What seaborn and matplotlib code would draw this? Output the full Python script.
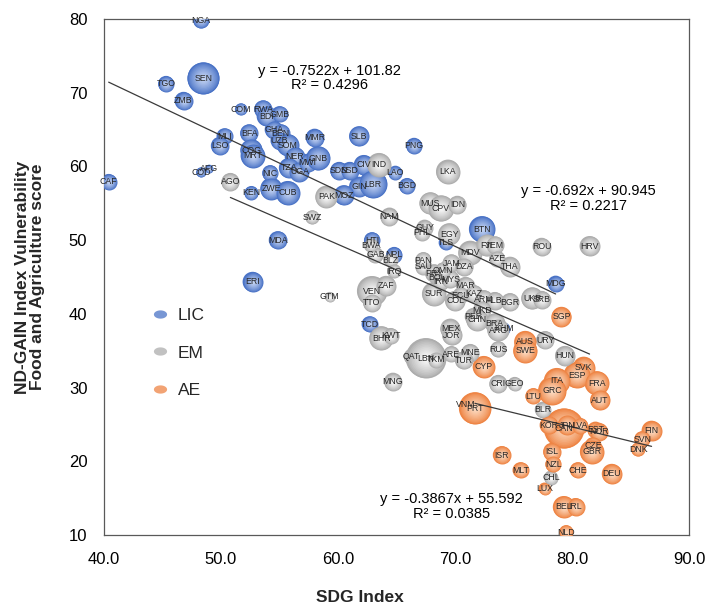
import numpy as np
import pandas as pd
import matplotlib
matplotlib.use("Agg")
import matplotlib.pyplot as plt
from matplotlib.lines import Line2D
from matplotlib.colors import to_rgb
import seaborn as sns

# --- values ---
# LIC (low income countries)
lic_codes = ["NGA", "SEN", "TGO", "ZMB", "COM", "RWA", "BDI", "GMB", "MLI", "LSO",
             "BFA", "GHA", "BEN", "UZB", "SOM", "COG", "MRT", "MMR", "NER", "TZA",
             "UGA", "MWI", "GNB", "CAF", "AFG", "COD", "NIC", "KEN", "ZWE", "CUB",
             "SLB", "PNG", "SDN", "SSD", "CIV", "LAO", "GIN", "LBR", "BGD", "MOZ",
             "TLS", "BTN", "HTI", "NPL", "MDA", "ERI", "TCD", "KHM", "MDG"]
lic_sdg = [48.3, 48.5, 45.3, 46.8, 51.7, 53.6, 53.9, 55.0, 50.3, 49.9,
           52.4, 54.5, 55.1, 55.0, 55.7, 52.6, 52.7, 58.0, 56.3, 55.8,
           56.7, 57.4, 58.3, 40.4, 49.0, 48.3, 54.2, 52.6, 54.3, 55.7,
           61.8, 66.5, 60.1, 61.0, 62.2, 64.9, 61.8, 63.0, 65.9, 60.5,
           69.2, 72.3, 62.9, 64.8, 54.85, 52.7, 62.7, 74.2, 78.6]
lic_vuln = [79.8, 71.95, 71.2, 68.9, 67.75, 67.75, 66.8, 67.1, 64.1, 62.8,
            64.5, 65.0, 64.5, 63.5, 62.9, 62.2, 61.45, 63.9, 61.3, 59.8,
            59.3, 60.5, 61.1, 57.9, 59.7, 59.2, 59.1, 56.4, 57.0, 56.4,
            64.1, 62.8, 59.4, 59.4, 60.2, 59.15, 57.25, 57.6, 57.35, 56.1,
            49.65, 51.5, 50.0, 48.0, 50.0, 44.35, 38.6, 38.0, 44.1]
lic_bubble = [8, 16, 8, 9, 6, 9, 10, 8, 8, 9,
              9, 9, 9, 9, 11, 11, 12, 9, 10, 10,
              10, 9, 12, 8, 4, 5, 8, 7, 11, 12,
              10, 8, 9, 9, 10, 7, 10, 14, 8, 10,
              7, 13, 8, 8, 9, 10, 8, 6, 8]

# EM (emerging markets)
em_codes = ["AGO", "IND", "LKA", "PAK", "MUS", "CPV", "IDN", "SWZ", "NAM", "GUY",
            "PHL", "EGY", "MDV", "FJI", "YEM", "AZE", "THA", "ROU", "HRV", "UKR",
            "SRB", "SUR", "SAU", "PRY", "BOL", "IRN", "MYS", "OMN", "MAR", "ECU",
            "KAZ", "COL", "ARM", "ALB", "BGR", "MKD", "PER", "CHN", "BRA", "ARG",
            "MEX", "JOR", "URY", "RUS", "HUN", "QAT", "LBN", "TKM", "ARE", "MNE",
            "TUR", "CRI", "GEO", "BLR", "VNM", "CHL", "GAB", "BWA", "BLZ", "PAN",
            "JAM", "DZA", "IRQ", "VEN", "ZAF", "TTO", "BHR", "KWT", "MNG", "GTM"]
em_sdg = [50.8, 63.5, 69.4, 59.0, 67.9, 68.8, 70.2, 57.8, 64.4, 67.4,
          67.2, 69.5, 71.3, 72.7, 73.4, 73.6, 74.7, 77.4, 81.5, 76.6,
          77.4, 68.2, 67.3, 68.2, 68.5, 68.8, 69.6, 69.0, 70.9, 70.5,
          71.6, 70.0, 72.45, 73.4, 74.7, 72.3, 71.6, 71.9, 73.4, 73.7,
          69.6, 69.75, 77.7, 73.7, 79.4, 66.3, 67.5, 68.4, 69.7, 71.3,
          70.75, 73.7, 75.1, 77.5, 70.9, 78.2, 63.2, 62.8, 64.5, 67.3,
          69.7, 70.8, 64.8, 62.9, 64.1, 62.9, 63.7, 64.5, 64.7, 59.3]
em_vuln = [57.9, 60.2, 59.3, 55.9, 55.0, 54.3, 54.8, 53.1, 53.2, 51.7,
           51.0, 50.8, 48.3, 49.3, 49.3, 47.5, 46.4, 49.1, 49.2, 42.1,
           41.9, 42.7, 46.4, 45.5, 45.0, 44.4, 44.7, 45.9, 43.8, 42.55,
           42.7, 41.75, 42.0, 41.75, 41.6, 40.5, 39.6, 39.2, 38.7, 37.8,
           38.0, 37.1, 36.45, 35.2, 34.3, 34.2, 34.0, 33.8, 34.55, 34.7,
           33.7, 30.5, 30.5, 27.0, 27.7, 17.8, 48.0, 49.3, 47.3, 47.3,
           46.85, 46.4, 45.8, 43.1, 43.8, 41.5, 36.7, 37.0, 30.8, 42.3]
em_bubble = [9, 12, 12, 11, 11, 13, 9, 7, 9, 8,
             8, 11, 12, 11, 9, 8, 10, 9, 10, 11,
             9, 12, 8, 9, 8, 9, 9, 8, 9, 8,
             9, 10, 9, 9, 9, 9, 9, 11, 10, 11,
             10, 10, 9, 8, 10, 8, 20, 8, 8, 9,
             9, 9, 7, 8, 5, 7, 8, 7, 7, 8,
             9, 9, 7, 15, 10, 9, 12, 8, 9, 5]

# AE (advanced economies)
ae_codes = ["SGP", "AUS", "SWE", "CYP", "SVK", "ESP", "FRA", "AUT", "ITA", "GRC",
            "LTU", "PRT", "CAN", "KOR", "JPN", "LVA", "EST", "NOR", "CZE", "GBR",
            "FIN", "SVN", "DNK", "ISR", "ISL", "NZL", "MLT", "CHE", "DEU", "LUX",
            "BEL", "IRL", "NLD"]
ae_sdg = [79.1, 76.0, 76.0, 72.45, 81.0, 80.4, 82.1, 82.4, 78.7, 78.3,
          76.7, 71.7, 79.3, 78.0, 79.55, 80.7, 82.0, 82.3, 81.8, 81.7,
          86.8, 86.0, 85.65, 74.0, 78.3, 78.4, 75.6, 80.5, 83.4, 77.65,
          79.3, 80.3, 79.5]
ae_vuln = [39.6, 36.2, 35.0, 32.8, 32.7, 31.7, 30.6, 28.3, 30.9, 29.6,
           28.85, 27.2, 24.45, 24.9, 24.9, 24.8, 24.3, 24.0, 22.2, 21.3,
           24.15, 23.0, 21.6, 20.85, 21.3, 19.6, 18.8, 18.8, 18.3, 16.3,
           13.8, 13.8, 10.4]
ae_bubble = [10, 11, 12, 11, 11, 13, 12, 10, 13, 14,
             8, 16, 20, 9, 10, 8, 8, 9, 8, 12,
             10, 8, 7, 9, 9, 8, 8, 8, 10, 6,
             11, 9, 7]

groups = ["LIC", "EM", "AE"]
trend_slope = [-0.7522, -0.692, -0.3867]
trend_intercept = [101.82, 90.945, 55.592]
trend_r2 = [0.4296, 0.2217, 0.0385]

# ==============================================================================
# --- build the table ---
# ==============================================================================
frames = []
for g, c, x, y, b in [("LIC", lic_codes, lic_sdg, lic_vuln, lic_bubble),
                      ("EM", em_codes, em_sdg, em_vuln, em_bubble),
                      ("AE", ae_codes, ae_sdg, ae_vuln, ae_bubble)]:
    frames.append(pd.DataFrame({"code": c, "group": g, "sdg": x, "vuln": y, "bubble": b}))
df = pd.concat(frames, ignore_index=True)
df["area"] = df["bubble"] ** 2

# ==============================================================================
# --- styling ---
# ==============================================================================
edge_col = {"LIC": "#4A73C6", "EM": "#ADADAD", "AE": "#EE8545"}
centre_col = {"LIC": "#C2D2F2", "EM": "#F8F8F8", "AE": "#FCDAC0"}
PT = 1.44  # px radius -> point diameter at 100 dpi

sns.set_theme(style="white")
plt.rcParams["font.family"] = ["Liberation Sans", "DejaVu Sans"]

fig = plt.figure(figsize=(7.11, 6.07), dpi=100)
ax = fig.add_axes([104 / 711, 1 - 535 / 607, (689 - 104) / 711, (535 - 19) / 607])

amin, amax = df["area"].min(), df["area"].max()
sns.scatterplot(data=df, x="sdg", y="vuln", hue="group", palette=edge_col,
                size="area", sizes=(PT ** 2 * amin, PT ** 2 * amax),
                size_norm=(amin, amax), linewidth=0, legend=False, ax=ax, zorder=2)

# radial shading, one bubble at a time so overlaps stack correctly
fracs = np.linspace(1.0, 0.12, 12)
for row in df.itertuples():
    e = np.array(to_rgb(edge_col[row.group]))
    c = np.array(to_rgb(centre_col[row.group]))
    for k, f in enumerate(fracs):
        t = (k / (len(fracs) - 1)) ** 0.8
        ax.scatter(row.sdg, row.vuln, s=(PT * row.bubble * f) ** 2,
                   color=e * (1 - t) + c * t, linewidth=0, zorder=3)

# trend lines over each group's range
for g, m, b in zip(groups, trend_slope, trend_intercept):
    xs = df.loc[df["group"] == g, "sdg"]
    xx = np.array([xs.min(), xs.max()])
    ax.plot(xx, m * xx + b, color="#3A3A3A", lw=0.9, zorder=5)

# country labels
for row in df.itertuples():
    ax.text(row.sdg, row.vuln, row.code, fontsize=6.3, ha="center", va="center",
            color="#262626", zorder=6)

# equations
eq_pos = [(59.3, 72.0), (81.4, 55.65), (69.7, 13.85)]
for (ex, ey), m, b, r2 in zip(eq_pos, trend_slope, trend_intercept, trend_r2):
    ax.text(ex, ey, f"y = {m:g}x + {b:g}\nR\u00b2 = {r2:g}", fontsize=10.5,
            ha="center", va="center", multialignment="center", color="black",
            linespacing=1.05, zorder=7)

ax.set_xlim(40, 90)
ax.set_ylim(10, 80)
xt = np.arange(40, 91, 10)
ax.set_xticks(xt)
ax.set_xticklabels([f"{v:.1f}" for v in xt])
ax.set_yticks(np.arange(10, 81, 10))
ax.tick_params(length=0, pad=12, labelsize=12, colors="black")
ax.set_xlabel("")
ax.set_ylabel("")
for sp in ax.spines.values():
    sp.set_visible(True)
    sp.set_color("#595959")
    sp.set_linewidth(0.9)

# legend with small oval markers
t = np.linspace(0, 2 * np.pi, 40)
oval = list(zip(1.6 * np.cos(t), np.sin(t)))
handles = [Line2D([], [], linestyle="none", marker=oval, markersize=9.5,
                  markerfacecolor=edge_col[g], markeredgewidth=0, alpha=0.75) for g in groups]
ax.legend(handles, groups, loc="upper left", bbox_to_anchor=(143 / 711, 1 - 299 / 607),
          bbox_transform=fig.transFigure, frameon=False, fontsize=12.5,
          labelspacing=1.3, handlelength=1.0, handletextpad=0.5, borderpad=0)

fig.text(30 / 711, 1 - 277 / 607, "ND-GAIN Index Vulnerability\nFood and Agriculture score",
         rotation=90, ha="center", va="center", fontsize=12.5, fontweight="bold",
         linespacing=1.05)
fig.text(360 / 711, 1 - 597 / 607, "SDG Index", ha="center", va="center",
         fontsize=12.5, fontweight="bold")

fig.savefig("out.png", dpi=100)
